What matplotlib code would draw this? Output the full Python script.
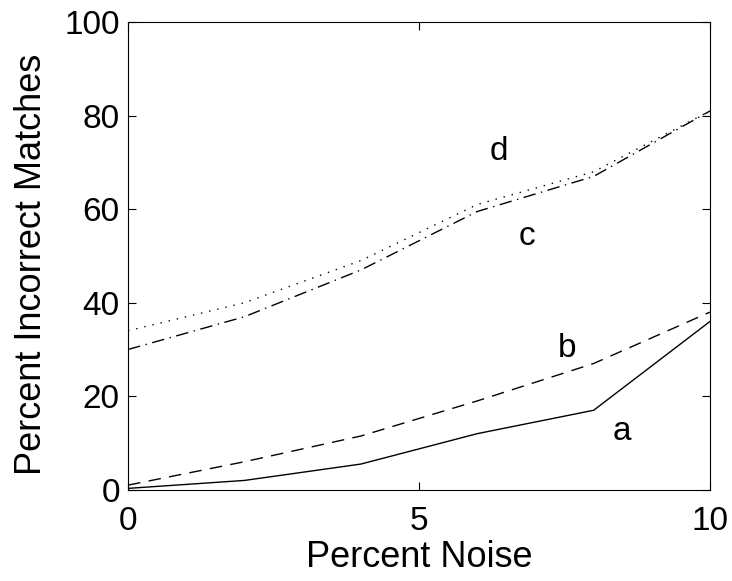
import numpy as np
import matplotlib.pyplot as plt

plt.rcParams['font.family'] = ['Liberation Sans', 'DejaVu Sans']

# Datos
noise = [0, 2, 4, 6, 8, 10]
curve_a = [0.3, 2, 5.5, 12, 17, 36]
curve_b = [1, 6, 11.5, 19, 27, 38]
curve_c = [30, 37, 47, 59.5, 67, 81]
curve_d = [34, 40, 49, 61, 68, 81]

fig = plt.figure(figsize=(7.32, 5.81), dpi=100)
ax = fig.add_axes([0.175, 0.157, 0.795, 0.805])

ax.plot(noise, curve_a, '-', color='black', linewidth=1)
ax.plot(noise, curve_b, '--', color='black', linewidth=1, dashes=(9, 6))
ax.plot(noise, curve_c, '-.', color='black', linewidth=1, dashes=(9, 4, 1, 4))
ax.plot(noise, curve_d, ':', color='black', linewidth=1, dashes=(1, 5))

# Etiquetas de las curvas
ax.text(8.32, 10.7, 'a', fontsize=24)
ax.text(7.39, 28.4, 'b', fontsize=24)
ax.text(6.71, 52.3, 'c', fontsize=24)
ax.text(6.22, 70.5, 'd', fontsize=24)

ax.set_xlim(0, 10)
ax.set_ylim(0, 100)
ax.set_xticks([0, 5, 10])
ax.set_yticks([0, 20, 40, 60, 80, 100])
ax.tick_params(direction='in', top=True, right=True, labelsize=24, length=6)
ax.tick_params(axis='x', pad=12)
ax.tick_params(axis='y', pad=6)
ax.set_xlabel('Percent Noise', fontsize=26, labelpad=2)
ax.set_ylabel('Percent Incorrect Matches', fontsize=26, labelpad=11)
ax.yaxis.label.set_y(0.483)

plt.savefig('out.png', dpi=100)
